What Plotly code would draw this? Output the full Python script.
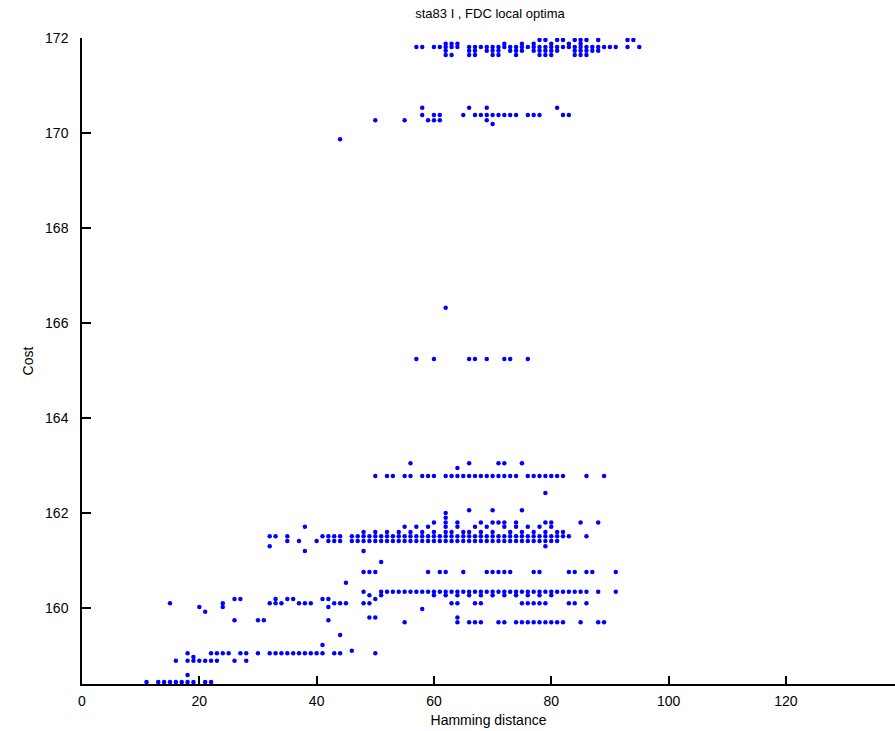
import plotly.graph_objects as go

# Cost levels (y) and the Hamming distances (x) of local optima at each level
c17196 = 171.96; h17196 = [78, 79, 81, 82, 84, 85, 86, 88, 93, 94]
c17188 = 171.88; h17188 = [62, 63, 64, 72, 75, 77, 80, 83, 85]
c17181 = 171.81; h17181 = [57, 58, 60, 61, 62, 63, 64, 66, 67, 68, 69, 70, 71, 72, 73, 74, 75, 76, 77, 78,
                           79, 80, 81, 82, 83, 84, 85, 86, 87, 88, 89, 90, 91, 93, 95]
c17173 = 171.73; h17173 = [62, 66, 67, 69, 70, 71, 73, 74, 75, 77, 78, 79, 80, 81, 84, 85, 86, 87, 88]
c17164 = 171.64; h17164 = [62, 63, 66, 67, 70, 71, 74, 78, 79, 80, 84, 85, 86]

c17053 = 170.53; h17053 = [58, 66, 69, 81]
c17038 = 170.38; h17038 = [58, 60, 61, 65, 67, 68, 69, 70, 71, 72, 73, 74, 76, 77, 78, 82, 83]
c17027 = 170.27; h17027 = [50, 55, 59, 60, 61, 69]
c17019 = 170.19; h17019 = [70]
c16987 = 169.87; h16987 = [44]

c16632 = 166.32; h16632 = [62]
c16524 = 165.24; h16524 = [57, 60, 66, 67, 69, 72, 73, 76]

c16305 = 163.05; h16305 = [56, 66, 71, 72, 75]
c16295 = 162.95; h16295 = [64]
c16278 = 162.78; h16278 = [50, 52, 53, 55, 56, 58, 59, 60, 62, 63, 64, 65, 66, 67, 68, 69, 70, 71, 72, 73,
                           74, 76, 77, 78, 79, 80, 81, 82, 86, 89]
c16242 = 162.42; h16242 = [79]

c16206 = 162.06; h16206 = [66, 70, 75]
c16200 = 162.00; h16200 = [62]
c16190 = 161.90; h16190 = [62]
c16180 = 161.80; h16180 = [60, 62, 64, 68, 70, 71, 72, 74, 79, 80, 85, 88]
c16171 = 161.71; h16171 = [38, 55, 57, 59, 62, 64, 67, 69, 72, 74, 76, 78, 80]
c16160 = 161.60; h16160 = [48, 50, 52, 54, 56, 58, 60, 62, 63, 65, 66, 68, 70, 73, 75, 77, 79, 81, 82]
c16151 = 161.51; h16151 = [32, 33, 35, 41, 42, 43, 44, 46, 47, 48, 49, 50, 51, 52, 53, 54, 55, 56, 57, 58,
                           59, 60, 61, 62, 63, 64, 65, 66, 67, 68, 69, 70, 71, 72, 73, 74, 75, 76, 77, 78,
                           79, 80, 81, 82, 83, 86]
c16141 = 161.41; h16141 = [35, 37, 40, 42, 43, 44, 46, 47, 48, 49, 50, 51, 52, 53, 54, 55, 56, 57, 58, 59,
                           60, 61, 62, 63, 64, 65, 66, 67, 68, 69, 70, 71, 72, 73, 74, 75, 76, 77, 78, 79,
                           80, 81]
c16130 = 161.30; h16130 = [32, 79]
c16120 = 161.20; h16120 = [38, 48]
c16097 = 160.97; h16097 = [51]
c16076 = 160.76; h16076 = [48, 49, 50, 59, 61, 62, 65, 69, 70, 71, 72, 73, 77, 78, 83, 84, 86, 87, 91]
c16053 = 160.53; h16053 = [45]

c16034 = 160.34; h16034 = [48, 51, 52, 53, 54, 55, 56, 57, 58, 59, 60, 61, 62, 63, 64, 65, 66, 67, 68, 69,
                           70, 71, 72, 73, 74, 75, 76, 77, 78, 79, 80, 81, 82, 83, 84, 85, 86, 88, 91]
c16027 = 160.27; h16027 = [49, 51, 60, 62, 64, 66, 68, 70, 72, 74, 76, 78, 80]
c16019 = 160.19; h16019 = [26, 27, 33, 35, 36, 41, 42, 50]
c16010 = 160.10; h16010 = [15, 24, 32, 33, 34, 37, 38, 39, 43, 44, 45, 48, 49, 63, 64, 67, 68, 75, 76, 77,
                           78, 79, 83, 84, 86]
c16002 = 160.02; h16002 = [20, 24, 42]
c15998 = 159.98; h15998 = [58]
c15992 = 159.92; h15992 = [21]
c15980 = 159.80; h15980 = [49, 50, 64]
c15974 = 159.74; h15974 = [26, 30, 31, 42]
c15970 = 159.70; h15970 = [55, 64, 66, 67, 68, 71, 72, 74, 75, 76, 77, 78, 79, 80, 81, 82, 85, 88, 89]
c15943 = 159.43; h15943 = [44]
c15922 = 159.22; h15922 = [41]
c15910 = 159.10; h15910 = [46]
c15905 = 159.05; h15905 = [18, 22, 23, 24, 25, 27, 28, 30, 32, 33, 34, 35, 36, 37, 38, 39, 40, 41, 43, 44, 50]
c15897 = 158.97; h15897 = [19]
c15889 = 158.89; h15889 = [16, 18, 19, 20, 21, 22, 23, 26, 28]
c15859 = 158.59; h15859 = [18]
c15844 = 158.44; h15844 = [11, 13, 14, 15, 16, 17, 18, 19, 21, 22]

levels = [
    (c17196, h17196), (c17188, h17188), (c17181, h17181), (c17173, h17173), (c17164, h17164),
    (c17053, h17053), (c17038, h17038), (c17027, h17027), (c17019, h17019), (c16987, h16987),
    (c16632, h16632), (c16524, h16524),
    (c16305, h16305), (c16295, h16295), (c16278, h16278), (c16242, h16242),
    (c16206, h16206), (c16200, h16200), (c16190, h16190), (c16180, h16180), (c16171, h16171),
    (c16160, h16160), (c16151, h16151), (c16141, h16141), (c16130, h16130), (c16120, h16120),
    (c16097, h16097), (c16076, h16076), (c16053, h16053),
    (c16034, h16034), (c16027, h16027), (c16019, h16019), (c16010, h16010), (c16002, h16002),
    (c15998, h15998), (c15992, h15992), (c15980, h15980), (c15974, h15974), (c15970, h15970),
    (c15943, h15943), (c15922, h15922), (c15910, h15910), (c15905, h15905), (c15897, h15897),
    (c15889, h15889), (c15859, h15859), (c15844, h15844),
]

xs, ys = [], []
for c, hs in levels:
    for h in hs:
        xs.append(h)
        ys.append(c)

x_ticks = [0, 20, 40, 60, 80, 100, 120]
y_ticks = [160, 162, 164, 166, 168, 170, 172]

fig = go.Figure()
fig.add_trace(go.Scatter(
    x=xs, y=ys, mode="markers",
    marker=dict(symbol="circle", size=4.5, color="#0000ff", line=dict(width=0)),
    showlegend=False,
))

font = dict(family="Liberation Sans, Arial, sans-serif", size=14, color="#000000")
fig.update_layout(
    width=895, height=731,
    paper_bgcolor="white", plot_bgcolor="white",
    margin=dict(l=82, r=0, t=38, b=47),
    font=font,
    title=dict(text="sta83 I , FDC local optima", xref="container", x=490 / 895,
               xanchor="center", yref="container", y=1 - 13 / 731, yanchor="middle",
               font=dict(family="Liberation Sans, Arial, sans-serif", size=13, color="#000000")),
)
fig.update_xaxes(
    range=[0, 138.6], tickvals=x_ticks, ticktext=[str(v) for v in x_ticks],
    ticks="inside", ticklen=8, tickwidth=1.5, tickcolor="black",
    showline=True, linecolor="black", linewidth=1.5,
    showgrid=False, zeroline=False, mirror=False,
    title=dict(text="Hamming distance", standoff=8, font=font),
    ticklabelstandoff=3,
)
fig.update_yaxes(
    range=[158.4, 172], tickvals=y_ticks, ticktext=[str(v) for v in y_ticks],
    ticks="inside", ticklen=9, tickwidth=1.5, tickcolor="black",
    showline=True, linecolor="black", linewidth=1.5,
    showgrid=False, zeroline=False, mirror=False,
    title=dict(text="Cost", standoff=8, font=font),
    ticklabelstandoff=9,
)

fig.write_html("out.html", config={"displayModeBar": False},
               post_script="document.body.style.margin='0';document.body.style.overflow='hidden';")
